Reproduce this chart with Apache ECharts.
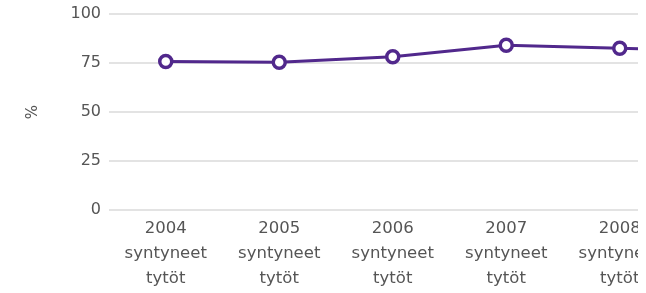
<!DOCTYPE html>
<html>
<head>
<meta charset="utf-8">
<script src="https://cdn.jsdelivr.net/npm/echarts@6/dist/echarts.min.js"></script>
<style>
  html, body { margin: 0; padding: 0; background: #fff; }
  .clip { width: 638px; height: 293px; overflow: hidden; }
  #chart { width: 790px; height: 293px; }
</style>
</head>
<body>
<div class="clip"><div id="chart"></div></div>
<script>
// chart data
const categories = ['2004\nsyntyneet\ntytöt', '2005\nsyntyneet\ntytöt', '2006\nsyntyneet\ntytöt',
  '2007\nsyntyneet\ntytöt', '2008\nsyntyneet\ntytöt', '2009\nsyntyneet\ntytöt']
const values = [75.8, 75.4, 78.2, 84.1, 82.5, 81]
const yTicks = [0, 25, 50, 75, 100]

const chart = echarts.init(document.getElementById('chart'))

chart.setOption({
  animation: false,
  grid: { left: 109, right: 0, top: 14, bottom: 83 },
  xAxis: {
    type: 'category',
    data: categories,
    axisLine: { show: false },
    axisTick: { show: false },
    axisLabel: {
      color: '#555',
      fontFamily: 'DejaVu Sans',
      fontSize: 16.5,
      lineHeight: 25,
      margin: 6,
      interval: 0,
    },
  },
  yAxis: {
    type: 'value',
    min: yTicks[0],
    max: yTicks[yTicks.length - 1],
    interval: 25,
    name: '%',
    nameLocation: 'middle',
    nameRotate: 90,
    nameGap: 68,
    nameTextStyle: { color: '#555', fontFamily: 'DejaVu Sans', fontSize: 15 },
    axisLabel: {
      color: '#555',
      fontFamily: 'DejaVu Sans',
      fontSize: 16,
      margin: 8,
    },
    splitLine: { lineStyle: { color: '#e3e3e3', width: 2 } },
  },
  series: [
    {
      type: 'line',
      data: values,
      symbol: 'circle',
      symbolSize: 12,
      lineStyle: { color: '#51288c', width: 3 },
      itemStyle: { color: '#fff', borderColor: '#51288c', borderWidth: 3.5 },
    },
  ],
})
</script>
</body>
</html>
